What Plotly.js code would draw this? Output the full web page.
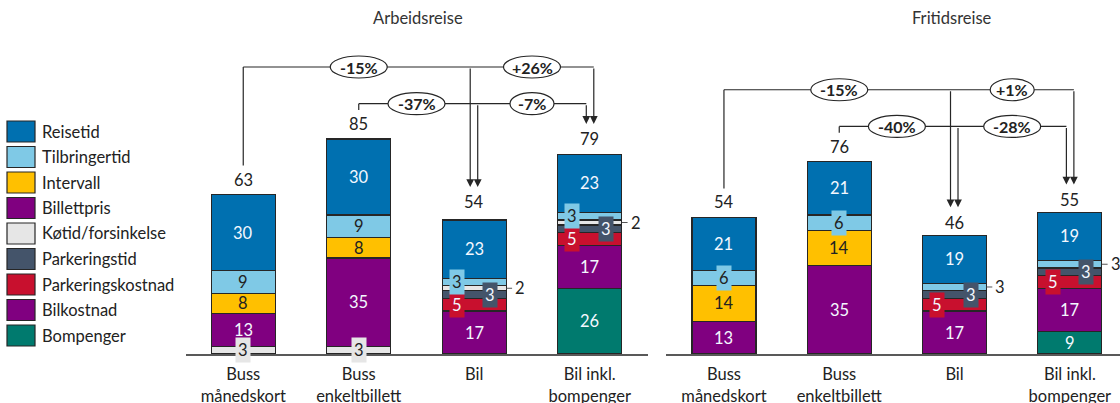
<!DOCTYPE html>
<html><head><meta charset="utf-8">
<script src="https://cdn.plot.ly/plotly-3.0.1.min.js"></script>
<style>html,body{margin:0;padding:0;background:#fff}#chart{width:1120px;height:403px}</style>
</head><body><div id="chart"></div>
<script>
// ---------- DATA ----------
const categories = ["Buss månedskort", "Buss enkeltbillett", "Bil", "Bil inkl. bompenger"];
const tickLabels = ["Buss<br>månedskort", "Buss<br>enkeltbillett", "Bil", "Bil inkl.<br>bompenger"];
const panelTitles = ["Arbeidsreise", "Fritidsreise"];
const seriesNames = ["Reisetid", "Tilbringertid", "Intervall", "Billettpris", "Køtid/forsinkelse",
  "Parkeringstid", "Parkeringskostnad", "Bilkostnad", "Bompenger"];

// Arbeidsreise
const arbeidReisetid          = [30, 30, 23, 23];
const arbeidTilbringertid     = [9, 9, 3, 3];
const arbeidIntervall         = [8, 8, 0, 0];
const arbeidBillettpris       = [13, 35, 0, 0];
const arbeidKotid             = [3, 3, 2, 2];
const arbeidParkeringstid     = [0, 0, 3, 3];
const arbeidParkeringskostnad = [0, 0, 5, 5];
const arbeidBilkostnad        = [0, 0, 17, 17];
const arbeidBompenger         = [0, 0, 0, 26];
const arbeidTotals            = [63, 85, 54, 79];

// Fritidsreise
const fritidReisetid          = [21, 21, 19, 19];
const fritidTilbringertid     = [6, 6, 3, 3];
const fritidIntervall         = [14, 14, 0, 0];
const fritidBillettpris       = [13, 35, 0, 0];
const fritidKotid             = [0, 0, 0, 0];
const fritidParkeringstid     = [0, 0, 3, 3];
const fritidParkeringskostnad = [0, 0, 5, 5];
const fritidBilkostnad        = [0, 0, 17, 17];
const fritidBompenger         = [0, 0, 0, 9];
const fritidTotals            = [54, 76, 46, 55];

// Comparisons: [from index, to index, label]
const arbeidComparisons = [[0, 2, "-15%"], [0, 3, "+26%"], [1, 2, "-37%"], [1, 3, "-7%"]];
const fritidComparisons = [[0, 2, "-15%"], [0, 3, "+1%"], [1, 2, "-40%"], [1, 3, "-28%"]];

// ---------- STYLE ----------
const FONT = "Lato, 'Open Sans', 'DejaVu Sans', sans-serif";
const colors = {
  "Reisetid": "#0070B0", "Tilbringertid": "#7FC9E6", "Intervall": "#FFC000",
  "Billettpris": "#800080", "Køtid/forsinkelse": "#E6E6E6", "Parkeringstid": "#44546A",
  "Parkeringskostnad": "#C8102E", "Bilkostnad": "#800080", "Bompenger": "#007A6E"
};
const darkText = {"Tilbringertid": true, "Intervall": true, "Køtid/forsinkelse": true};
const smallDx = {"Tilbringertid": -0.15, "Parkeringstid": 0.14, "Parkeringskostnad": -0.15};
const stackOrder = ["Bompenger", "Bilkostnad", "Parkeringskostnad", "Parkeringstid",
  "Køtid/forsinkelse", "Billettpris", "Intervall", "Tilbringertid", "Reisetid"];
const outline = "#262626";
const BARW = 0.555;

const panels = [
  {xa: "x", ya: "y", totals: arbeidTotals, comps: arbeidComparisons,
   external: ["Køtid/forsinkelse"], titleX: 418 / 1120,
   values: {"Reisetid": arbeidReisetid, "Tilbringertid": arbeidTilbringertid, "Intervall": arbeidIntervall,
     "Billettpris": arbeidBillettpris, "Køtid/forsinkelse": arbeidKotid, "Parkeringstid": arbeidParkeringstid,
     "Parkeringskostnad": arbeidParkeringskostnad, "Bilkostnad": arbeidBilkostnad, "Bompenger": arbeidBompenger}},
  {xa: "x2", ya: "y2", totals: fritidTotals, comps: fritidComparisons,
   external: ["Tilbringertid"], titleX: 952 / 1120,
   values: {"Reisetid": fritidReisetid, "Tilbringertid": fritidTilbringertid, "Intervall": fritidIntervall,
     "Billettpris": fritidBillettpris, "Køtid/forsinkelse": fritidKotid, "Parkeringstid": fritidParkeringstid,
     "Parkeringskostnad": fritidParkeringskostnad, "Bilkostnad": fritidBilkostnad, "Bompenger": fritidBompenger}}
];

const traces = [], annotations = [], shapes = [];
const xIdx = categories.map((c, i) => i);

panels.forEach((p, pi) => {
  const base = [0, 0, 0, 0];
  stackOrder.forEach(name => {
    const vals = p.values[name];
    traces.push({
      type: "bar", name: name, x: xIdx, y: vals, xaxis: p.xa, yaxis: p.ya,
      width: BARW, showlegend: false, hoverinfo: "skip",
      marker: {color: colors[name], line: {color: outline, width: 1.2}}
    });
    vals.forEach((v, i) => {
      if (v > 0) {
        const yc = base[i] + v / 2;
        const txtCol = darkText[name] ? "#222" : "#f4f8ff";
        const isExt = p.external.includes(name) && v <= 3 && i >= 2;
        if (isExt) {
          const xe = i + BARW / 2;
          shapes.push({type: "line", xref: p.xa, yref: p.ya, x0: xe, x1: xe + 0.05, y0: yc, y1: yc,
            line: {color: "#555", width: 1}});
          annotations.push({xref: p.xa, yref: p.ya, x: xe + 0.06, y: yc, text: String(v),
            showarrow: false, xanchor: "left", yanchor: "middle", font: {family: FONT, size: 16.5, color: "#222"}});
        } else {
          const small = v < 6 && smallDx[name] !== undefined;
          const dx = small ? smallDx[name] : 0;
          annotations.push({xref: p.xa, yref: p.ya, x: i + dx, y: yc, text: String(v),
            showarrow: false, bgcolor: (v < 7 ? colors[name] : "rgba(0,0,0,0)"), borderpad: 2, yanchor: "middle",
            font: {family: FONT, size: 16.5, color: txtCol}});
        }
      }
      base[i] += v;
    });
  });
  // totals
  p.totals.forEach((t, i) => {
    annotations.push({xref: p.xa, yref: p.ya, x: i, y: t, yanchor: "bottom", yshift: 3,
      text: String(t), showarrow: false, font: {family: FONT, size: 16.5, color: "#222"}});
  });
  // panel title
  annotations.push({xref: "paper", yref: "paper", x: p.titleX, y: (354 - 18) / 354, text: panelTitles[pi],
    xanchor: "center", yanchor: "middle", showarrow: false, font: {family: FONT, size: 16.5, color: "#333"}});

  // comparison brackets
  const maxT = Math.max(...p.totals);
  const froms = [...new Set(p.comps.map(c => c[0]))];
  froms.forEach(f => {
    const outer = f === froms[0];
    const level = maxT + (outer ? 28.5 : 14);
    const comps = p.comps.filter(c => c[0] === f);
    const dropX = to => to + (outer ? (to === 3 ? 0.035 : -0.035) : (to === 3 ? -0.03 : 0.03));
    const lastX = Math.max(...comps.map(c => dropX(c[1])));
    const lc = {color: outline, width: 1.2};
    shapes.push({type: "line", xref: p.xa, yref: p.ya, x0: f, x1: f, y0: p.totals[f] + 11.5, y1: level, line: lc});
    shapes.push({type: "line", xref: p.xa, yref: p.ya, x0: f, x1: lastX, y0: level, y1: level, line: lc});
    comps.forEach(c => {
      const to = c[1];
      const xd = dropX(to);
      annotations.push({xref: p.xa, yref: p.ya, axref: p.xa, ayref: p.ya, x: xd, y: p.totals[to] + 12,
        ax: xd, ay: level, text: "", showarrow: true, arrowhead: 2, arrowsize: 1.3, arrowwidth: 1.2,
        arrowcolor: outline, standoff: 0, startstandoff: 0});
    });
  });
  // ovals
  p.comps.forEach(c => {
    const f = c[0], to = c[1];
    const outer = f === froms[0];
    const level = maxT + (outer ? 28.5 : 14);
    const lx = (to === 3) ? 2.5 : (f + to) / 2;
    const w = 13 * c[2].length + 5;
    shapes.push({type: "circle", xref: p.xa, yref: p.ya, xsizemode: "pixel", ysizemode: "pixel",
      xanchor: lx, yanchor: level, x0: -w / 2, x1: w / 2, y0: -11, y1: 11,
      fillcolor: "#ffffff", line: {color: outline, width: 1.2}});
    annotations.push({xref: p.xa, yref: p.ya, x: lx, y: level, text: "<b>" + c[2] + "</b>",
      showarrow: false, yanchor: "middle", font: {family: FONT, size: 16, color: "#222"}});
  });
});

// custom legend
seriesNames.forEach((name, k) => {
  const top = 121 + k * 25.5;
  const toP = py => (354 - py) / 354;
  shapes.push({type: "rect", xref: "paper", yref: "paper", x0: 7 / 1120, x1: 35 / 1120,
    y0: toP(top + 21), y1: toP(top), fillcolor: colors[name], line: {color: outline, width: 1.2}});
  annotations.push({xref: "paper", yref: "paper", x: 40 / 1120, y: toP(top + 10.5), xanchor: "left",
    yanchor: "middle", text: name, showarrow: false, font: {family: FONT, size: 16.5, color: "#222"}});
});

const axisCommon = {
  tickmode: "array", tickvals: xIdx, ticktext: tickLabels, ticks: "", showgrid: false, zeroline: false,
  showline: true, linecolor: "#595959", linewidth: 1.5, fixedrange: true,
  tickfont: {family: FONT, size: 16.5, color: "#222"}, ticklabelstandoff: 5
};
const layout = {
  width: 1120, height: 403, margin: {l: 0, r: 0, t: 0, b: 49},
  paper_bgcolor: "#fff", plot_bgcolor: "#fff", barmode: "stack", showlegend: false,
  font: {family: FONT},
  xaxis: Object.assign({}, axisCommon, {domain: [185.5 / 1120, 647.5 / 1120], range: [-0.5, 3.5]}),
  xaxis2: Object.assign({}, axisCommon, {domain: [666.3 / 1120, 1], range: [-0.5, 3.435]}),
  yaxis: {domain: [0, 1], range: [0, 140], visible: false, fixedrange: true},
  yaxis2: {domain: [0, 1], range: [0, 140], visible: false, fixedrange: true, anchor: "x2"},
  shapes: shapes, annotations: annotations
};
layout.xaxis2.anchor = "y2";
Plotly.newPlot("chart", traces, layout, {staticPlot: true, displayModeBar: false});
</script></body></html>
